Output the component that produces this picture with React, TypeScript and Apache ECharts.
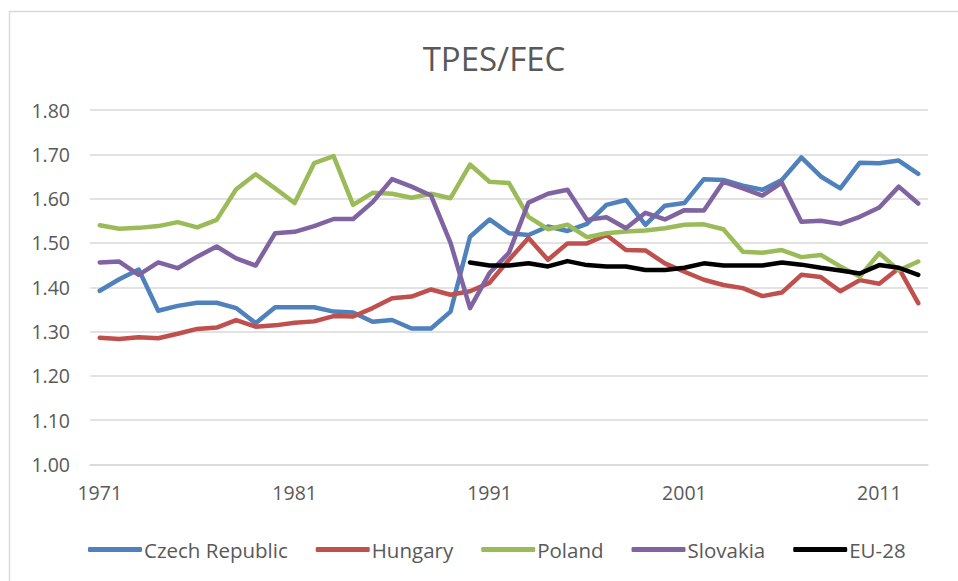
import React, { useEffect, useRef } from "react";
import * as echarts from "echarts";

const years: string[] = [];
for (let y = 1971; y <= 2013; y++) years.push(String(y));

const czech = [1.392, 1.418, 1.440, 1.347, 1.358, 1.365, 1.365, 1.353, 1.319, 1.355, 1.355, 1.355, 1.345, 1.343, 1.322, 1.326, 1.307, 1.307, 1.345, 1.514, 1.553, 1.522, 1.518, 1.537, 1.527, 1.543, 1.586, 1.597, 1.541, 1.584, 1.590, 1.644, 1.642, 1.629, 1.620, 1.642, 1.693, 1.650, 1.623, 1.681, 1.680, 1.686, 1.656];
const hungary = [1.286, 1.283, 1.287, 1.285, 1.295, 1.306, 1.309, 1.326, 1.311, 1.314, 1.320, 1.323, 1.335, 1.334, 1.353, 1.375, 1.379, 1.395, 1.383, 1.391, 1.410, 1.462, 1.511, 1.462, 1.499, 1.499, 1.518, 1.484, 1.483, 1.454, 1.435, 1.417, 1.405, 1.398, 1.380, 1.388, 1.428, 1.423, 1.391, 1.416, 1.408, 1.443, 1.364];
const poland = [1.540, 1.532, 1.534, 1.538, 1.547, 1.535, 1.552, 1.621, 1.655, 1.623, 1.590, 1.680, 1.696, 1.586, 1.613, 1.611, 1.602, 1.611, 1.601, 1.677, 1.638, 1.635, 1.559, 1.531, 1.541, 1.513, 1.522, 1.526, 1.528, 1.533, 1.541, 1.542, 1.531, 1.480, 1.478, 1.484, 1.468, 1.473, 1.447, 1.424, 1.477, 1.438, 1.458];
const slovakia = [1.456, 1.458, 1.428, 1.456, 1.443, 1.469, 1.492, 1.465, 1.449, 1.522, 1.525, 1.538, 1.554, 1.554, 1.592, 1.644, 1.627, 1.607, 1.500, 1.353, 1.432, 1.478, 1.591, 1.611, 1.620, 1.552, 1.558, 1.533, 1.568, 1.553, 1.574, 1.573, 1.638, 1.623, 1.607, 1.636, 1.548, 1.550, 1.543, 1.559, 1.580, 1.627, 1.589];
const eu28 = [null, null, null, null, null, null, null, null, null, null, null, null, null, null, null, null, null, null, null, 1.456, 1.449, 1.449, 1.454, 1.447, 1.459, 1.450, 1.447, 1.447, 1.439, 1.439, 1.444, 1.454, 1.449, 1.449, 1.449, 1.456, 1.451, 1.444, 1.438, 1.431, 1.450, 1.444, 1.428];

const seriesNames = ["Czech Republic", "Hungary", "Poland", "Slovakia", "EU-28"];
const seriesData = [czech, hungary, poland, slovakia, eu28];
const seriesColors = ["#4f81bd", "#c0504d", "#9bbb59", "#8064a2", "#000000"];

const FONT = "'Open Sans', 'Noto Sans', sans-serif";
const TXT = "#595959";

export default function App() {
  const ref = useRef<HTMLDivElement>(null);
  useEffect(() => {
    if (!ref.current) return;
    const chart = echarts.init(ref.current, undefined, { renderer: "svg" });
    chart.setOption({
      animation: false,
      backgroundColor: "#ffffff",
      title: {
        text: "TPES/FEC",
        left: 489,
        top: 37,
        textAlign: "center",
        textStyle: { fontFamily: FONT, fontSize: 33, fontWeight: "normal", color: TXT },
      },
      graphic: [
        {
          type: "rect",
          shape: { x: 9.5, y: 11.5, width: 1000, height: 700 },
          style: { fill: "none", stroke: "#d9d9d9", lineWidth: 1.5 },
          silent: true,
        },
      ],
      legend: {
        left: 83,
        top: 534,
        icon: "roundRect",
        itemWidth: 54,
        itemHeight: 5,
        itemGap: 28,
        textStyle: { fontFamily: FONT, fontSize: 20.5, color: TXT, padding: [0, 0, 0, -3] },
        data: seriesNames,
      },
      grid: { left: 90, right: 30, top: 110, bottom: 116.5 },
      xAxis: {
        type: "category",
        data: years,
        boundaryGap: true,
        axisLine: { lineStyle: { color: "#d9d9d9", width: 1.5 } },
        axisTick: { show: false },
        axisLabel: { interval: 9, color: TXT, fontFamily: FONT, fontSize: 19.5, margin: 18 },
      },
      yAxis: {
        type: "value",
        min: 1.0,
        max: 1.8,
        interval: 0.1,
        axisLine: { show: false },
        axisTick: { show: false },
        axisLabel: {
          color: TXT,
          fontFamily: FONT,
          fontSize: 19.5,
          margin: 20,
          formatter: (v: number) => v.toFixed(2),
        },
        splitLine: { lineStyle: { color: "#d9d9d9", width: 1.5 } },
      },
      series: seriesNames.map((name, i) => ({
        name,
        type: "line",
        data: seriesData[i],
        symbol: "none",
        color: seriesColors[i],
        connectNulls: false,
        lineStyle: { width: 4.5, color: seriesColors[i], cap: "round", join: "round" },
        itemStyle: { color: seriesColors[i] },
      })),
    });
    return () => chart.dispose();
  }, []);
  return (
    <div
      ref={ref}
      style={{ position: "fixed", left: 0, top: 0, width: 958, height: 581 }}
    />
  );
}
